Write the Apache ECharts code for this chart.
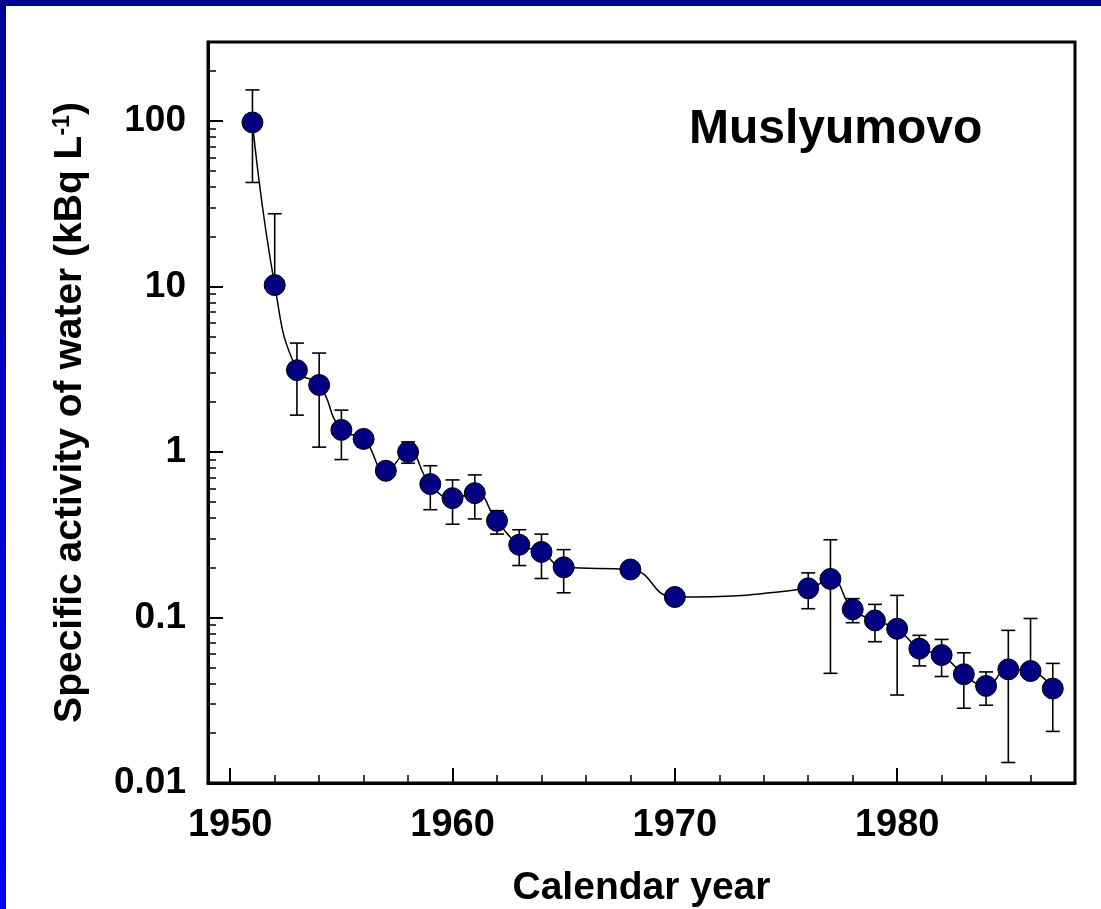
<!DOCTYPE html>
<html>
<head>
<meta charset="utf-8">
<title>Muslyumovo</title>
<script src="https://cdn.jsdelivr.net/npm/echarts@6/dist/echarts.min.js"></script>
<style>
  html, body { margin: 0; padding: 0; background: #fff; }
  #chart { width: 1101px; height: 909px; }
</style>
</head>
<body>
<div id="chart"></div>
<script>
// values (kBq per litre)
var years = [1951, 1952, 1953, 1954, 1955, 1956, 1957, 1958, 1959, 1960, 1961, 1962, 1963, 1964, 1965,
  1968, 1970, 1976, 1977, 1978, 1979, 1980, 1981, 1982, 1983, 1984, 1985, 1986, 1987];
var activity = [98, 10.2, 3.12, 2.54, 1.36, 1.2, 0.77, 1.0, 0.64, 0.526, 0.564, 0.384, 0.275, 0.249, 0.201,
  0.195, 0.133, 0.15, 0.171, 0.112, 0.096, 0.0855, 0.0648, 0.0593, 0.0454, 0.0386, 0.0486, 0.0475, 0.0372];
// upper / lower ends of the error bars (null = no bar)
var errHigh = [154, 27.5, 4.55, 3.96, 1.79, 1.3, null, 1.15, 0.826, 0.678, 0.727, 0.442, 0.339, 0.319, 0.257,
  null, null, 0.186, 0.295, 0.13, 0.12, 0.136, 0.078, 0.0737, 0.0612, 0.0469, 0.0836, 0.0986, 0.0528];
var errLow = [42.5, null, 1.67, 1.07, 0.9, 1.07, null, 0.855, 0.448, 0.366, 0.394, 0.319, 0.206, 0.172, 0.141,
  null, null, 0.113, 0.046, 0.093, 0.0714, 0.034, 0.051, 0.044, 0.0283, 0.0295, 0.0133, null, 0.0205];

var xMajor = [1950, 1960, 1970, 1980];
var xMinor = [1952, 1954, 1956, 1958, 1962, 1964, 1966, 1968, 1972, 1974, 1976, 1978, 1982, 1984, 1986];
var yMajor = [0.01, 0.1, 1, 10, 100];
var yMinor = [0.02, 0.03, 0.04, 0.05, 0.06, 0.07, 0.08, 0.09,
  0.2, 0.3, 0.4, 0.5, 0.6, 0.7, 0.8, 0.9,
  2, 3, 4, 5, 6, 7, 8, 9,
  20, 30, 40, 50, 60, 70, 80, 90, 200];

var font = "'Liberation Sans', Arial, sans-serif";

var chart = echarts.init(document.getElementById('chart'));

var points = years.map(function (y, i) { return [y, activity[i]]; });

function renderErr(params, api) {
  var i = params.dataIndex;
  var hi = errHigh[i], lo = errLow[i];
  if (hi == null && lo == null) return;
  var x = api.value(0);
  var mid = api.coord([x, api.value(1)]);
  var top = hi != null ? api.coord([x, hi]) : mid;
  var bot = lo != null ? api.coord([x, lo]) : mid;
  var w = 7;
  var style = { stroke: '#000', lineWidth: 1.6 };
  var kids = [{ type: 'line', shape: { x1: mid[0], y1: top[1], x2: mid[0], y2: bot[1] }, style: style }];
  if (hi != null) kids.push({ type: 'line', shape: { x1: mid[0] - w, y1: top[1], x2: mid[0] + w, y2: top[1] }, style: style });
  if (lo != null) kids.push({ type: 'line', shape: { x1: mid[0] - w, y1: bot[1], x2: mid[0] + w, y2: bot[1] }, style: style });
  return { type: 'group', children: kids };
}

var option = {
  backgroundColor: '#fff',
  animation: false,
  title: {
    text: 'Muslyumovo',
    left: 689, top: 106, padding: 0,
    textStyle: { fontFamily: font, fontWeight: 'bold', fontSize: 48, color: '#000' }
  },
  graphic: [
    { type: 'rect', left: 0, top: 0, shape: { width: 1101, height: 6 }, style: { fill: '#000099' } },
    { type: 'rect', left: 0, top: 0, shape: { width: 6, height: 909 },
      style: { fill: new echarts.graphic.LinearGradient(0, 0, 0, 1, [
        { offset: 0, color: '#000099' }, { offset: 1, color: '#0000ff' }]) } }
  ],
  grid: {
    left: 208, right: 26, top: 42, bottom: 126,
    outerBoundsMode: 'none', containLabel: false,
    show: true, borderColor: '#000', borderWidth: 3, backgroundColor: 'transparent'
  },
  xAxis: [{
    type: 'value', min: 1949, max: 1988,
    name: 'Calendar year', nameLocation: 'middle', nameGap: 86,
    nameTextStyle: { fontFamily: font, fontWeight: 'bold', fontSize: 39, color: '#000' },
    axisLine: { lineStyle: { color: '#000', width: 3 } },
    axisTick: { inside: true, length: 15, customValues: xMajor, lineStyle: { color: '#000', width: 2 } },
    axisLabel: {
      customValues: xMajor, margin: 24, fontFamily: font, fontWeight: 'bold', fontSize: 38, color: '#000',
      formatter: function (v) { return String(Math.round(v)); }
    },
    splitLine: { show: false }
  }, {
    type: 'value', min: 1949, max: 1988, position: 'bottom',
    axisLine: { show: false },
    axisTick: { inside: true, length: 8, customValues: xMinor, lineStyle: { color: '#000', width: 1.5 } },
    axisLabel: { show: false },
    splitLine: { show: false }
  }],
  yAxis: [{
    type: 'log', logBase: 10, min: 0.01, max: 300,
    name: 'Specific activity of water (kBq L{sup|-1})', nameLocation: 'middle', nameGap: 118, nameRotate: 90,
    nameTextStyle: {
      fontFamily: font, fontWeight: 'bold', fontSize: 39, color: '#000',
      rich: { sup: { fontFamily: font, fontWeight: 'bold', fontSize: 23, color: '#000', verticalAlign: 'top', padding: [0, 0, 15, 0] } }
    },
    axisLine: { lineStyle: { color: '#000', width: 3 } },
    axisTick: { inside: true, length: 15, customValues: yMajor, lineStyle: { color: '#000', width: 2 } },
    axisLabel: {
      customValues: yMajor, margin: 22, fontFamily: font, fontWeight: 'bold', fontSize: 37, color: '#000',
      formatter: function (v) { return String(+(+v).toPrecision(2)); }
    },
    splitLine: { show: false }
  }, {
    type: 'log', logBase: 10, min: 0.01, max: 300, position: 'left',
    axisLine: { show: false },
    axisTick: { inside: true, length: 8, customValues: yMinor, lineStyle: { color: '#000', width: 1.5 } },
    axisLabel: { show: false },
    splitLine: { show: false }
  }],
  series: [{
    type: 'custom',
    renderItem: renderErr,
    data: points,
    z: 2
  }, {
    type: 'line',
    data: points,
    smooth: 0.5,
    symbol: 'circle',
    symbolSize: 21,
    lineStyle: { color: '#000', width: 1.5 },
    itemStyle: { color: '#000080', borderColor: '#000', borderWidth: 1 },
    z: 3
  }]
};

chart.setOption(option);
</script>
</body>
</html>
